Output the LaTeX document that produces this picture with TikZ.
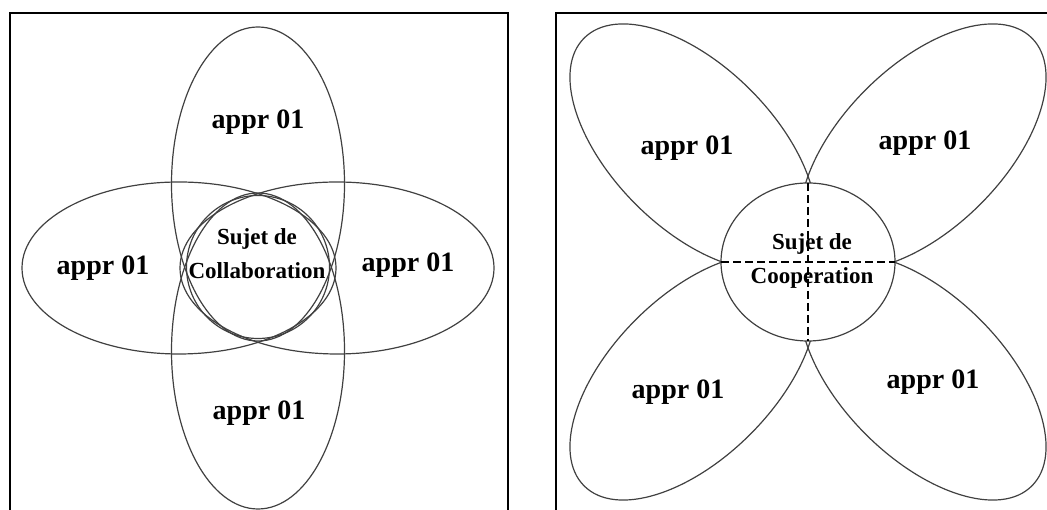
\documentclass[tikz,border=0pt]{standalone}
\usepackage{fontspec}
\setmainfont{Liberation Serif}
\usetikzlibrary{shapes.geometric}

\begin{document}
\begin{tikzpicture}[x=1pt,y=1pt,
  frame/.style={draw=black,line width=1.8pt},
  oval/.style={ellipse,draw=black!75,line width=1.2pt,inner sep=0pt,outer sep=0pt},
  appr/.style={font=\fontsize{28}{32}\selectfont\bfseries,inner sep=0pt},
  sujet/.style={font=\fontsize{23}{34}\selectfont\bfseries,align=center,inner sep=0pt},
  cut/.style={draw=black,line width=1.9pt,dash pattern=on 8pt off 4pt}]
\clip (0,0) rectangle (1047,510);
% collaboration
\draw[frame] (10,-10) rectangle (508,497);
\node[oval,minimum width=314pt,minimum height=172pt] (ovL) at (179,242) {};
\node[oval,minimum width=314pt,minimum height=172pt] (ovR) at (337,242) {};
\node[oval,minimum width=173pt,minimum height=314pt] (ovT) at (258,326) {};
\node[oval,minimum width=173pt,minimum height=316pt] (ovB) at (258,159) {};
\node[oval,circle,minimum size=143pt] (collab) at (258,243) {};
\node[sujet] (collabt) at (257,256) {Sujet de\\Collaboration};
\node[appr] (aT) at (258,388) {appr 01};
\node[appr] (aL) at (103,242) {appr 01};
\node[appr] (aR) at (408,245) {appr 01};
\node[appr] (aB) at (259,97) {appr 01};
% cooperation
\draw[frame] (556,-10) rectangle (1060,497);
\node[oval,minimum width=308pt,minimum height=162pt,rotate=-45] (ptTL) at (693,363) {};
\node[oval,minimum width=308pt,minimum height=162pt,rotate=45] (ptTR) at (923,363) {};
\node[oval,minimum width=308pt,minimum height=162pt,rotate=45] (ptBL) at (693,133) {};
\node[oval,minimum width=308pt,minimum height=162pt,rotate=-45] (ptBR) at (923,133) {};
\node[oval,fill=white,minimum width=174pt,minimum height=158pt] (coop) at (808,248) {};
\node[sujet] (coopt) at (812,249) {Sujet de\\Cooperation};
\draw[cut] (coop.west) -- (coop.east);
\draw[cut] (coop.north) -- (coop.south);
\node[appr] (bTL) at (687,362) {appr 01};
\node[appr] (bTR) at (925,367) {appr 01};
\node[appr] (bBL) at (678,118) {appr 01};
\node[appr] (bBR) at (933,128) {appr 01};
\end{tikzpicture}
\end{document}
